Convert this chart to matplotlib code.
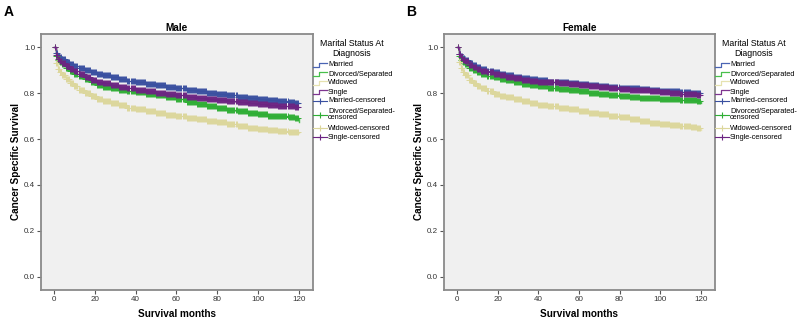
import numpy as np
import matplotlib.pyplot as plt
from matplotlib import rcParams
from matplotlib.lines import Line2D

rcParams['font.family'] = ['Liberation Sans', 'DejaVu Sans']

W, H = 799, 322  # output size in pixels

# survival estimates (step points)
months = [0, 1, 2, 3, 4, 6, 8, 10, 12, 15, 18, 21, 24, 28, 32, 36, 40, 45, 50, 55, 60,
          65, 70, 75, 80, 85, 90, 95, 100, 105, 110, 115, 118, 120]

male_married = [1.0, .975, .963, .955, .947, .935, .925, .917, .910, .900, .891, .884, .877,
                .869, .861, .854, .848, .841, .834, .828, .821, .814, .808, .802, .796, .790,
                .784, .778, .773, .768, .764, .760, .758, .756]
male_divorced = [1.0, .960, .945, .935, .926, .909, .895, .884, .874, .861, .847, .836, .828,
                 .821, .814, .809, .804, .798, .790, .781, .772, .762, .753, .745, .736, .728,
                 .720, .713, .707, .702, .698, .694, .690, .673]
male_widowed = [1.0, .930, .905, .890, .879, .860, .845, .829, .815, .800, .786, .775, .766,
                .756, .747, .737, .729, .720, .712, .705, .699, .692, .686, .679, .672, .664,
                .657, .650, .643, .638, .634, .631, .630, .628]
male_single = [1.0, .965, .950, .940, .932, .918, .905, .894, .885, .872, .859, .849, .842,
               .834, .827, .820, .814, .808, .802, .796, .790, .785, .780, .775, .771, .766,
               .762, .757, .753, .749, .745, .742, .741, .740]

female_married = [1.0, .972, .960, .951, .943, .930, .920, .912, .905, .897, .890, .884, .878,
                  .872, .866, .860, .855, .850, .846, .842, .838, .834, .830, .826, .823, .820,
                  .817, .814, .811, .808, .805, .802, .801, .800]
female_divorced = [1.0, .960, .946, .936, .927, .911, .900, .891, .884, .875, .868, .861, .855,
                   .848, .841, .834, .829, .824, .818, .812, .807, .802, .797, .792, .788, .784,
                   .780, .777, .774, .772, .770, .768, .766, .755]
female_widowed = [1.0, .935, .910, .893, .879, .858, .845, .832, .822, .809, .798, .789, .781,
                  .772, .764, .756, .750, .744, .737, .729, .722, .715, .708, .701, .694, .686,
                  .678, .671, .665, .660, .655, .651, .648, .638]
female_single = [1.0, .968, .955, .946, .938, .923, .913, .905, .898, .890, .883, .877, .871,
                 .865, .859, .854, .850, .846, .842, .838, .834, .830, .826, .822, .819, .815,
                 .812, .808, .804, .800, .797, .794, .792, .790]

# censoring times, every half month (marks sit on the step curve)
censor_months = np.arange(0.5, 120, 0.5)

groups = ['Married', 'Divorced/Separated', 'Widowed', 'Single']
line_colors = ['#4a64b4', '#48c04c', '#e6e2b0', '#7e3590']
mark_colors = ['#3a50a0', '#2fae35', '#dcd79c', '#6c2482']

x_ticks = [0, 20, 40, 60, 80, 100, 120]
y_ticks = [0.0, 0.2, 0.4, 0.6, 0.8, 1.0]


def fx(px):
    return px / W


def fy(py):
    return 1 - py / H


def step_at(t, vals):
    idx = np.searchsorted(months, t, side='right') - 1
    return np.asarray(vals)[idx]


fig = plt.figure(figsize=(W / 100, H / 100), dpi=100)


def panel(left_px, right_px, title, letter, letter_px, series, leg_x):
    ax = fig.add_axes((fx(left_px), fy(290), fx(right_px - left_px), (290 - 34) / H))
    ax.set_facecolor('#f0f0f0')
    for vals, c in zip(series, line_colors):
        ax.plot(months, vals, drawstyle='steps-post', color=c, lw=1.0)
    for vals, c in zip(series, mark_colors):
        ax.plot(censor_months, step_at(censor_months, vals), ls='none', marker='+',
                ms=4.5, mew=0.7, color=c)
    ax.set_xlim(-6.4, 127)
    ax.set_ylim(-0.057, 1.057)
    ax.set_xticks(x_ticks)
    ax.set_yticks(y_ticks)
    ax.set_yticklabels(['%.1f' % v for v in y_ticks])
    for s in ax.spines.values():
        s.set_color('#8a8a8a')
        s.set_linewidth(1.3)
    ax.tick_params(length=3, width=0.8, color='#555555', labelsize=5.8,
                   labelcolor='#333333', pad=1.2)
    ax.set_title(title, fontsize=7.2, fontweight='bold', pad=2)

    cx = (left_px + right_px) / 2
    fig.text(fx(cx), fy(314), 'Survival months', ha='center', va='center',
             fontsize=7.2, fontweight='bold')
    fig.text(fx(left_px - 25), fy(162), 'Cancer Specific Survival', ha='center', va='center',
             rotation=90, fontsize=7.2, fontweight='bold')
    fig.text(fx(letter_px[0]), fy(letter_px[1]), letter, ha='left', va='center',
             fontsize=10, fontweight='bold')

    # legend, SPSS style
    tx = leg_x + 15
    fig.text(fx(leg_x + 39), fy(44), 'Marital Status At', ha='center', va='center', fontsize=6.3)
    fig.text(fx(leg_x + 39), fy(53), 'Diagnosis', ha='center', va='center', fontsize=6.3)
    rows = [65, 74, 83, 92]
    for name, c, y in zip(groups, line_colors, rows):
        xs = [leg_x, leg_x + 6, leg_x + 6, leg_x + 14]
        ys = [y + 2, y + 2, y - 2, y - 2]
        fig.add_artist(Line2D([fx(v) for v in xs], [fy(v) for v in ys],
                              transform=fig.transFigure, color=c, lw=0.9))
        fig.text(fx(tx), fy(y), name, ha='left', va='center', fontsize=5.3)
    cens_rows = [101, 114.5, 128, 137]
    cens_labels = ['Married-censored', 'Divorced/Separated-\ncensored',
                   'Widowed-censored', 'Single-censored']
    for name, c, y in zip(cens_labels, mark_colors, cens_rows):
        fig.add_artist(Line2D([fx(leg_x), fx(leg_x + 14)], [fy(y), fy(y)],
                              transform=fig.transFigure, color=c, lw=0.8))
        fig.add_artist(Line2D([fx(leg_x + 7)], [fy(y)], transform=fig.transFigure,
                              ls='none', marker='+', ms=5, mew=0.8, color=c))
        fig.text(fx(tx), fy(y), name, ha='left', va='center', fontsize=5.3,
                 linespacing=0.95)


panel(41, 313, 'Male', 'A', (4, 12),
      [male_married, male_divorced, male_widowed, male_single], 313)
panel(444, 715, 'Female', 'B', (406, 12),
      [female_married, female_divorced, female_widowed, female_single], 715)

plt.savefig('out.png', dpi=100)
